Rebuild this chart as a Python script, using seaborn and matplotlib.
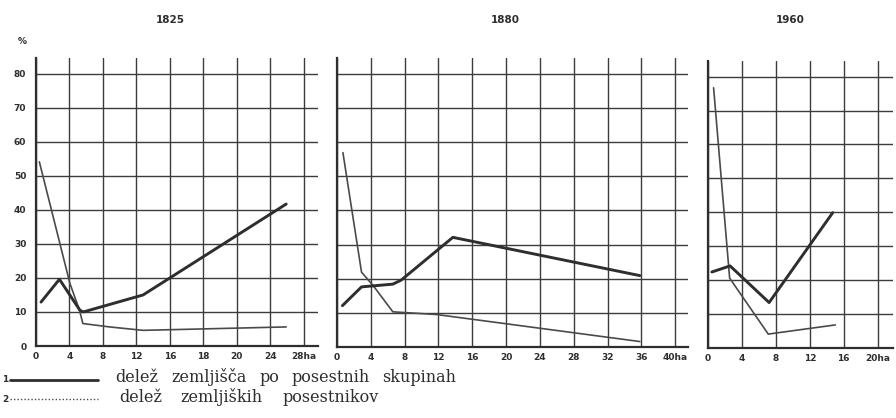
import matplotlib
matplotlib.use("Agg")
import matplotlib.pyplot as plt
import seaborn as sns
import pandas as pd
from matplotlib.lines import Line2D

# ---------------- data ----------------
years = ["1825", "1880", "1960"]

# 1825
x1825_land = [0.6, 2.8, 5.25, 5.65, 12.8, 29.9]
y1825_land = [12.9, 19.6, 10.5, 10.0, 15.0, 41.7]
x1825_own = [0.4, 4.05, 5.2, 5.6, 8.8, 12.8, 29.9]
y1825_own = [54.1, 18.4, 10.5, 6.6, 5.6, 4.6, 5.6]

# 1880
x1880_land = [0.64, 2.9, 6.6, 7.6, 13.7, 35.8]
y1880_land = [12.1, 17.6, 18.4, 19.6, 32.1, 20.9]
x1880_own = [0.7, 2.9, 4.3, 6.6, 11.8, 35.8]
y1880_own = [56.9, 21.9, 17.9, 10.3, 9.5, 1.6]

# 1960
x1960_land = [0.45, 2.6, 7.2, 14.7]
y1960_land = [22.4, 24.2, 13.4, 39.9]
x1960_own = [0.66, 2.55, 7.1, 15.0]
y1960_own = [76.7, 20.6, 4.1, 6.8]

xlabels_1825 = ["0", "4", "8", "12", "16", "18", "20", "24", "28ha"]
xlabels_1880 = ["0", "4", "8", "12", "16", "20", "24", "28", "32", "36", "40ha"]
xlabels_1960 = ["0", "4", "8", "12", "16", "20ha"]
ylabels = ["0", "10", "20", "30", "40", "50", "60", "70", "80"]

legend_labels = ["delež zemljišča po posestnih skupinah", "delež zemljiških posestnikov"]

# ---------------- style ----------------
sns.set_theme(style="white")
plt.rcParams['font.family'] = ['DejaVu Sans']

INK = "#2e2e2e"
GRID = "#3c3c3c"

W, H = 896, 418
fig = plt.figure(figsize=(W / 100, H / 100), dpi=100)
fig.patch.set_facecolor("white")


def add_ax(left, right, bottom, top):
    return fig.add_axes([left / W, (H - bottom) / H, (right - left) / W, (bottom - top) / H])


panels = [
    dict(box=(36, 318, 346, 58), xlim=33.7, labels=xlabels_1825,
         land=(x1825_land, y1825_land), own=(x1825_own, y1825_own), title=years[0], tx=170),
    dict(box=(337, 688, 347, 58), xlim=41.5, labels=xlabels_1880,
         land=(x1880_land, y1880_land), own=(x1880_own, y1880_own), title=years[1], tx=505),
    dict(box=(708, 893, 348, 61), xlim=21.8, labels=xlabels_1960,
         land=(x1960_land, y1960_land), own=(x1960_own, y1960_own), title=years[2], tx=790),
]

for i, p in enumerate(panels):
    ax = add_ax(*p["box"])
    ax.set_facecolor("none")
    df_land = pd.DataFrame({"x": p["land"][0], "y": p["land"][1]})
    df_own = pd.DataFrame({"x": p["own"][0], "y": p["own"][1]})
    sns.lineplot(data=df_own, x="x", y="y", ax=ax, sort=False, estimator=None,
                 color="#4a4a4a", linewidth=1.2, zorder=3)
    sns.lineplot(data=df_land, x="x", y="y", ax=ax, sort=False, estimator=None,
                 color=INK, linewidth=2.1, zorder=4)
    ax.set_xlim(0, p["xlim"])
    ax.set_ylim(0, 84.6)
    ax.set_xticks([4 * k for k in range(len(p["labels"]))])
    ax.set_xticklabels(p["labels"], fontsize=6.5, fontweight="bold", color=INK)
    ax.set_yticks([10 * k for k in range(9)])
    ax.grid(True, color=GRID, linewidth=1.0)
    ax.set_axisbelow(True)
    for s in ["top", "right"]:
        ax.spines[s].set_visible(False)
    for s in ["left", "bottom"]:
        ax.spines[s].set_color(INK)
        ax.spines[s].set_linewidth(1.6)
    ax.tick_params(axis="x", length=0, pad=4)
    if i == 0:
        ax.set_yticklabels(ylabels, fontsize=6.5, fontweight="bold", color=INK)
        ax.tick_params(axis="y", length=5, width=1.0, color=INK, pad=2, direction="out")
    else:
        ax.set_yticklabels([])
        ax.tick_params(axis="y", length=0)
    ax.set_xlabel("")
    ax.set_ylabel("")
    fig.text(p["tx"] / W, 1 - 20 / H, p["title"], ha="center", va="center",
             fontsize=7.5, fontweight="bold", color=INK)

fig.text(22 / W, 1 - 41 / H, "%", ha="center", va="center", fontsize=6.5,
         fontweight="bold", color=INK)

# legend
fig.text(5 / W, 1 - 380 / H, "1", ha="center", va="center", fontsize=6.5,
         fontweight="bold", color=INK)
fig.add_artist(Line2D([10 / W, 98 / W], [1 - 380 / H, 1 - 380 / H], color=INK, linewidth=2.0))
fig.text(5 / W, 1 - 399 / H, "2", ha="center", va="center", fontsize=6.5,
         fontweight="bold", color=INK)
fig.add_artist(Line2D([10 / W, 98 / W], [1 - 399 / H, 1 - 399 / H], color="#4a4a4a",
                      linewidth=1.0, linestyle=(0, (1, 1.5))))

# words placed with the wide letter spacing of the printed original
word_x = [[115, 171, 259, 291, 382], [119, 180, 282]]
word_y = [377, 397]
for line, xs, yy in zip(legend_labels, word_x, word_y):
    for word, xx in zip(line.split(" "), xs):
        fig.text(xx / W, 1 - yy / H, word, ha="left", va="center", fontsize=11.5,
                 family=["DejaVu Serif"], color=INK)

fig.savefig("out.png", dpi=100, facecolor="white")
